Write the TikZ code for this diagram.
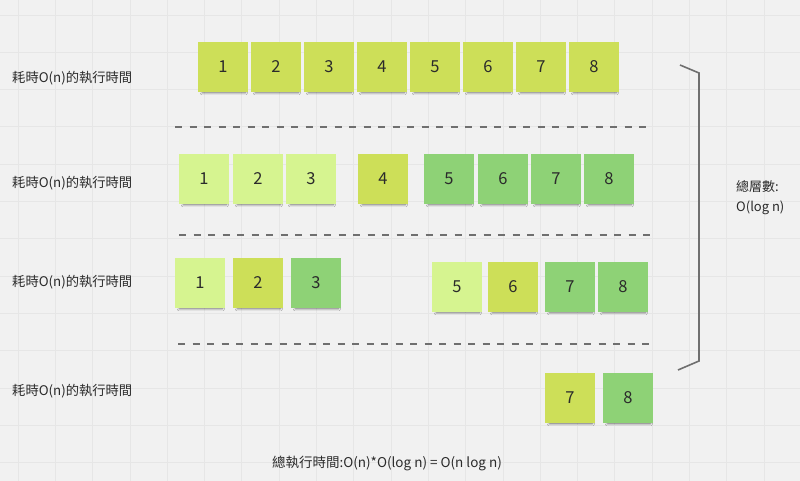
\documentclass[tikz,border=0pt]{standalone}
\usepackage{fontspec}
\setmainfont{Noto Sans CJK TC}
\usepackage{xcolor}
\usepackage{tikz}
\usetikzlibrary{shadows.blur}
\definecolor{cfondo}{HTML}{F1F1F1}
\definecolor{cgriglia}{HTML}{E6E6E6}
\definecolor{cgiallo}{HTML}{CDDF58}
\definecolor{cchiaro}{HTML}{D6F490}
\definecolor{cverde}{HTML}{8ED276}
\definecolor{clinea}{HTML}{6F6F6F}
\definecolor{ctesto}{HTML}{2B2B2B}

\begin{document}
\begin{tikzpicture}[x=1pt,y=-1pt,
  nota/.style={minimum size=50pt,inner sep=0pt,text=ctesto,font=\fontsize{16.5}{16}\selectfont,
    blur shadow={shadow xshift=1pt,shadow yshift=-5pt,shadow scale=0.86,shadow opacity=55,shadow blur radius=2.5pt}},
  giallo/.style={nota,fill=cgiallo},
  chiaro/.style={nota,fill=cchiaro},
  verde/.style={nota,fill=cverde},
  etichetta/.style={anchor=west,inner sep=0pt,text=ctesto,font=\fontsize{13.3}{13}\selectfont},
  separa/.style={clinea,line width=2pt,dash pattern=on 7pt off 7.5pt}]
  \fill[cfondo] (0,0) rectangle (800,481);
  \useasboundingbox (0,0) rectangle (800,481);
  \begin{scope}[shift={(18,15)}]
    \draw[cgriglia,line width=0.8pt,step=37.3pt] (-18,-15) grid (782,466);
  \end{scope}
  % livello 1
  \node[etichetta] (l1) at (12,78) {耗時O(n)的執行時間};
  \node[giallo] (a1) at (223,67) {1};
  \node[giallo] (a2) at (276,67) {2};
  \node[giallo] (a3) at (329,67) {3};
  \node[giallo] (a4) at (382,67) {4};
  \node[giallo] (a5) at (435,67) {5};
  \node[giallo] (a6) at (488,67) {6};
  \node[giallo] (a7) at (541,67) {7};
  \node[giallo] (a8) at (594,67) {8};
  \draw[separa] (175,127) -- (647,127);
  % livello 2
  \node[etichetta] (l2) at (12,183) {耗時O(n)的執行時間};
  \node[chiaro] (b1) at (204,179) {1};
  \node[chiaro] (b2) at (258,179) {2};
  \node[chiaro] (b3) at (311,179) {3};
  \node[giallo] (b4) at (383,179) {4};
  \node[verde] (b5) at (449,179) {5};
  \node[verde] (b6) at (503,179) {6};
  \node[verde] (b7) at (556,179) {7};
  \node[verde] (b8) at (609,179) {8};
  \draw[separa] (179,235) -- (651,235);
  % livello 3
  \node[etichetta] (l3) at (12,282) {耗時O(n)的執行時間};
  \node[chiaro] (c1) at (200,283) {1};
  \node[giallo] (c2) at (258,283) {2};
  \node[verde] (c3) at (316,283) {3};
  \node[chiaro] (c5) at (457,287) {5};
  \node[giallo] (c6) at (513,287) {6};
  \node[verde] (c7) at (570,287) {7};
  \node[verde] (c8) at (623,287) {8};
  \draw[separa] (178,344) -- (651,344);
  % livello 4
  \node[etichetta] (l4) at (12,391) {耗時O(n)的執行時間};
  \node[giallo] (d7) at (570,398) {7};
  \node[verde] (d8) at (628,398) {8};
  % parentesi
  \draw[clinea,line width=1.6pt] (680,65) -- (699,73) -- (699,361) -- (678,370);
  \node[anchor=west,inner sep=0pt,align=left,text=ctesto,font=\fontsize{13}{20}\selectfont] (strati) at (736,198) {總層數:\\O(log n)};
  \node[text=ctesto,font=\fontsize{13.5}{13}\selectfont] (totale) at (387,463) {總執行時間:O(n)*O(log n) = O(n log n)};
\end{tikzpicture}
\end{document}
